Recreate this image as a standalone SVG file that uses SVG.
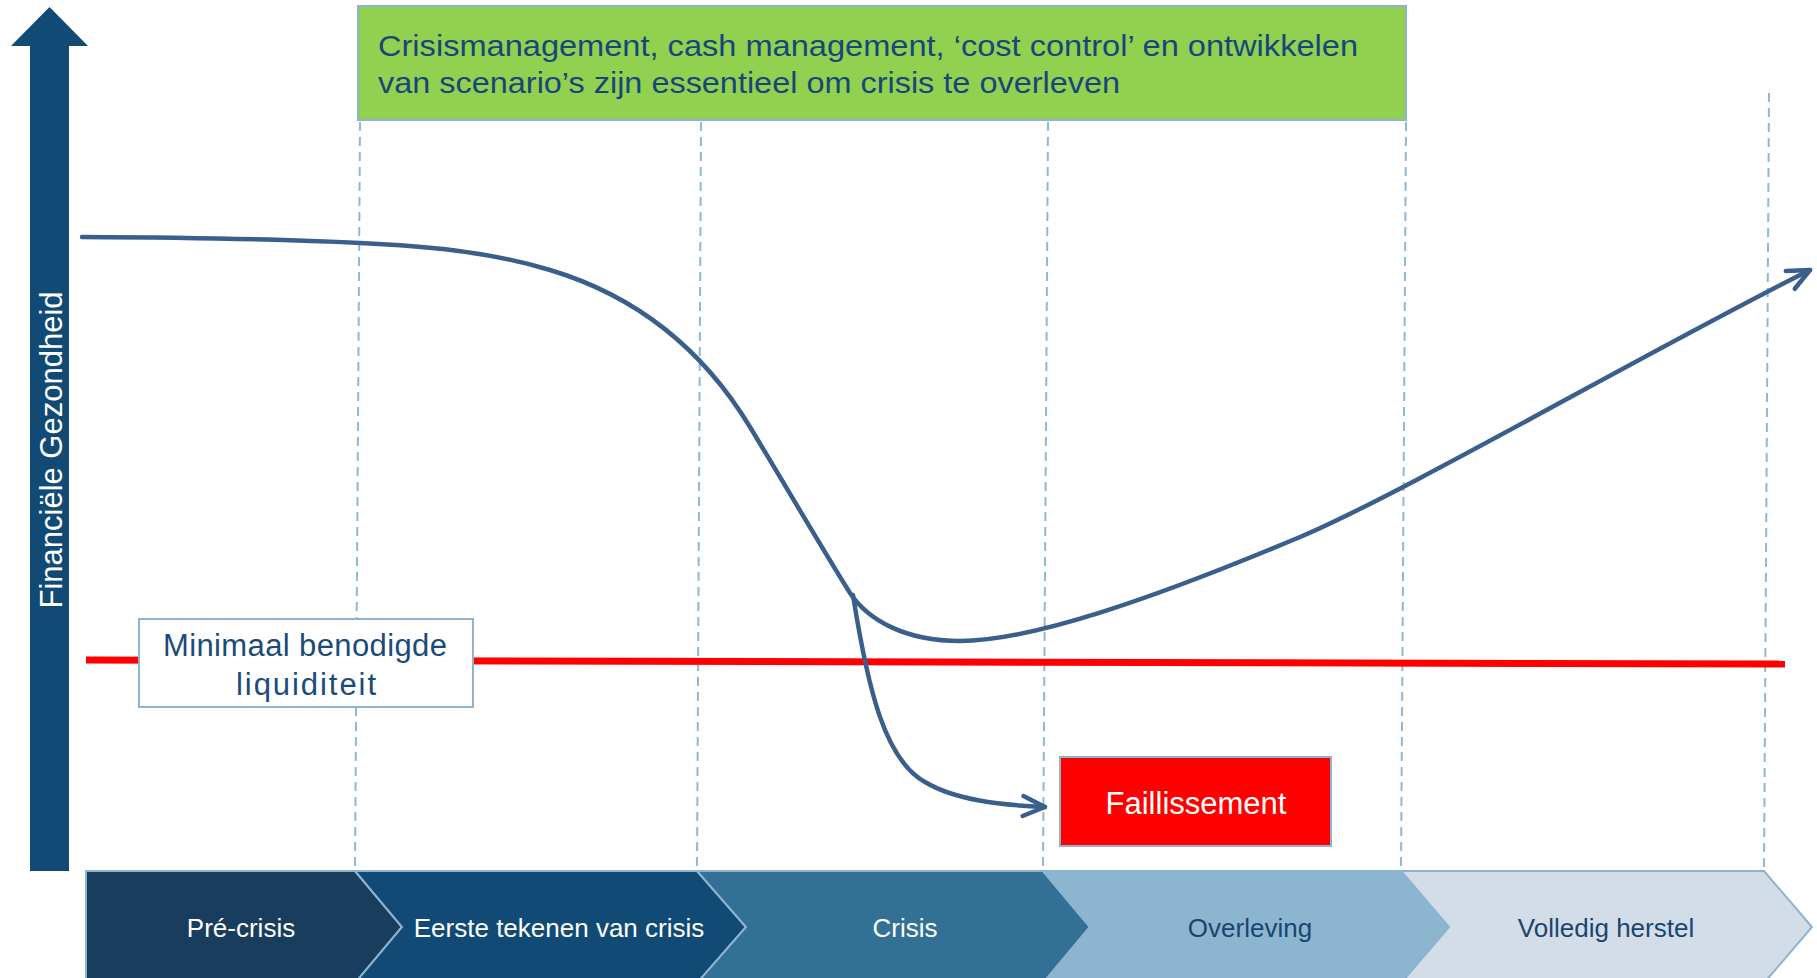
<svg xmlns="http://www.w3.org/2000/svg" width="1817" height="978" viewBox="0 0 1817 978">
<defs>
<style>
.t{font-family:"Liberation Sans",Arial,sans-serif;}
.dash{stroke:#8db8d6;stroke-width:2;stroke-dasharray:9 6;fill:none;}
.curve{stroke:#3a5f8c;stroke-width:4.5;fill:none;stroke-linecap:round;stroke-linejoin:round;}
.chev{stroke:#8db3d0;stroke-width:2;}
.lbl{fill:#17477a;}
</style>
<marker id="open" markerUnits="userSpaceOnUse" orient="auto" refX="0" refY="0" markerWidth="40" markerHeight="40" viewBox="-30 -20 40 40" overflow="visible">
<path d="M-22,-10 L0,0 L-22,10" fill="none" stroke="#3a5f8c" stroke-width="4.5" stroke-linecap="round" stroke-linejoin="round"/>
</marker>
</defs>
<rect width="1817" height="978" fill="#ffffff"/>

<g id="gridlines">
<line class="dash" x1="360" y1="122" x2="355" y2="871"/>
<line class="dash" x1="701" y1="122" x2="697" y2="871"/>
<line class="dash" x1="1048" y1="122" x2="1043" y2="871"/>
<line class="dash" x1="1406" y1="122" x2="1401" y2="871"/>
<line class="dash" x1="1769" y1="93" x2="1764" y2="871"/>
</g>

<g id="axis">
<polygon points="49.5,7 88,46 69,46 69,871 30,871 30,46 11,46" fill="#114a75"/>
<text class="t" transform="translate(62,450) rotate(-90)" text-anchor="middle" font-size="31" fill="#ffffff">Financiële Gezondheid</text>
</g>

<g id="banner">
<rect x="358" y="6" width="1048" height="114" fill="#92d050" stroke="#8db3d0" stroke-width="2"/>
<text class="t lbl" x="378" y="56" font-size="30" textLength="980" lengthAdjust="spacingAndGlyphs">Crisismanagement, cash management, ‘cost control’ en ontwikkelen</text>
<text class="t lbl" x="378" y="93" font-size="30" textLength="742" lengthAdjust="spacingAndGlyphs">van scenario’s zijn essentieel om crisis te overleven</text>
</g>

<g id="threshold">
<line x1="86" y1="660" x2="1785" y2="664" stroke="#ff0000" stroke-width="7"/>
</g>

<g id="connectors">
<path class="curve" d="M82,237 C175,237.5 280,239 360,243 C423,246 487,251 550,270 C630,294 700,344.5 750,427 C780,476.5 820,545 850,593 C868,620 905,641 960,641 C1030,641 1150,600 1300,537 C1400,495 1650,350 1810,270" marker-end="url(#open)"/>
<path class="curve" d="M853,595 C868,690 885,760 925,782 C955,800 1000,805 1045,807" marker-end="url(#open)"/>
</g>

<g id="min-liquidity">
<rect x="139" y="619" width="334" height="88" fill="#ffffff" stroke="#8db3d0" stroke-width="2"/>
<text class="t" x="163" y="656" font-size="31" textLength="284" lengthAdjust="spacing" fill="#1b4b78">Minimaal benodigde</text>
<text class="t" x="236" y="695" font-size="31" textLength="140" lengthAdjust="spacing" fill="#1b4b78">liquiditeit</text>
</g>

<g id="faillissement">
<rect x="1060" y="757" width="271" height="89" fill="#ff0000" stroke="#8db3d0" stroke-width="2"/>
<text class="t" x="1196" y="814" font-size="31" text-anchor="middle" fill="#ffffff">Faillissement</text>
</g>

<g id="phase-pre-crisis">
<polygon class="chev" points="86,871 355,871 402,927 355,983 86,983" fill="#193d5d"/>
<text class="t" x="241" y="937" font-size="26" text-anchor="middle" fill="#ffffff">Pré-crisis</text>
</g>
<g id="phase-eerste-tekenen">
<polygon class="chev" points="355,871 697,871 746,927 697,983 355,983 402,927" fill="#114a75"/>
<text class="t" x="559" y="937" font-size="26" text-anchor="middle" fill="#ffffff">Eerste tekenen van crisis</text>
</g>
<g id="phase-crisis">
<polygon class="chev" points="697,871 1043,871 1090,927 1043,983 697,983 746,927" fill="#337096"/>
<text class="t" x="905" y="937" font-size="26" text-anchor="middle" fill="#ffffff">Crisis</text>
</g>
<g id="phase-overleving">
<polygon class="chev" points="1043,871 1401,871 1449,927 1401,983 1043,983 1090,927" fill="#8cb5d0"/>
<text class="t" x="1250" y="937" font-size="26" text-anchor="middle" fill="#1a4570">Overleving</text>
</g>
<g id="phase-volledig-herstel">
<polygon class="chev" points="1401,871 1764,871 1812,927 1764,983 1401,983 1449,927" fill="#d3dde7"/>
<text class="t" x="1606" y="937" font-size="26" text-anchor="middle" fill="#1a4570">Volledig herstel</text>
</g>
</svg>
